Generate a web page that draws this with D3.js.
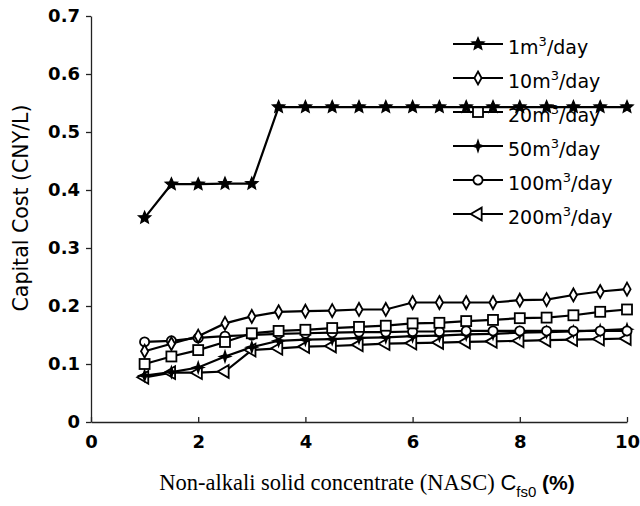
<!DOCTYPE html>
<html>
<head>
<meta charset="utf-8">
<script src="https://cdn.jsdelivr.net/npm/d3@7/dist/d3.min.js"></script>
<style>
  html, body { margin: 0; padding: 0; background: #fff; }
  svg { display: block; }
</style>
</head>
<body>
<svg id="chart" width="640" height="506"></svg>
<script>
// NASC concentration (%) at which each capacity was evaluated
const concentration = [1, 1.5, 2, 2.5, 3, 3.5, 4, 4.5, 5, 5.5, 6, 6.5, 7, 7.5, 8, 8.5, 9, 9.5, 10];

// Capital cost (CNY/L) for each plant capacity
const cost1 = [0.352, 0.41, 0.41, 0.411, 0.411, 0.543, 0.543, 0.543, 0.543, 0.543, 0.543, 0.543, 0.543, 0.543, 0.543, 0.543, 0.543, 0.543, 0.543];
const cost10 = [0.122, 0.135, 0.148, 0.170, 0.182, 0.190, 0.191, 0.192, 0.194, 0.194, 0.206, 0.206, 0.206, 0.206, 0.210, 0.211, 0.219, 0.225, 0.229];
const cost20 = [0.100, 0.113, 0.124, 0.138, 0.153, 0.157, 0.159, 0.162, 0.164, 0.166, 0.170, 0.171, 0.174, 0.176, 0.179, 0.180, 0.184, 0.190, 0.194];
const cost50 = [0.080, 0.086, 0.094, 0.113, 0.129, 0.140, 0.142, 0.143, 0.145, 0.146, 0.148, 0.149, 0.151, 0.152, 0.154, 0.155, 0.156, 0.158, 0.160];
const cost100 = [0.138, 0.140, 0.145, 0.148, 0.150, 0.152, 0.153, 0.154, 0.155, 0.155, 0.156, 0.156, 0.157, 0.157, 0.157, 0.157, 0.157, 0.157, 0.157];
const cost200 = [0.077, 0.085, 0.085, 0.087, 0.124, 0.127, 0.130, 0.131, 0.133, 0.135, 0.136, 0.137, 0.138, 0.139, 0.140, 0.141, 0.142, 0.143, 0.144];

const capacities = ["1", "10", "20", "50", "100", "200"];
const markerKinds = ["star", "diamond", "square", "spike", "circle", "triangle"];
const xTicks = [0, 2, 4, 6, 8, 10];
const yTicks = [0, 0.1, 0.2, 0.3, 0.4, 0.5, 0.6, 0.7];

const seriesValues = [cost1, cost10, cost20, cost50, cost100, cost200];
const series = capacities.map((c, i) => ({
  capacity: c,
  kind: markerKinds[i],
  points: concentration.map((x, j) => ({ x, y: seriesValues[i][j] }))
}));

const svg = d3.select("#chart");
const x = d3.scaleLinear().domain([0, 10]).range([91, 627]);
const y = d3.scaleLinear().domain([0, 0.7]).range([422, 16]);

const sansBold = "'DejaVu Sans', sans-serif";

// Axes
const gx = svg.append("g")
  .attr("transform", `translate(0,${y(0)})`)
  .call(d3.axisBottom(x).tickValues(xTicks).tickSizeInner(-5).tickSizeOuter(0).tickPadding(13)
    .tickFormat(d3.format("d")));
const gy = svg.append("g")
  .attr("transform", `translate(${x(0)},0)`)
  .call(d3.axisLeft(y).tickValues(yTicks).tickSizeInner(5).tickSizeOuter(0).tickPadding(6)
    .tickFormat(d => d === 0 ? "0" : d.toFixed(1)));

[gx, gy].forEach(g => {
  g.select(".domain").attr("stroke", "#222").attr("stroke-width", 1.3);
  g.selectAll(".tick line").attr("stroke", "#222").attr("stroke-width", 1.3);
  g.selectAll(".tick text")
    .attr("fill", "#000")
    .style("font-family", sansBold)
    .style("font-weight", "bold")
    .style("font-size", "18px");
});

// Axis titles
svg.append("text")
  .attr("transform", `translate(28,208) rotate(-90)`)
  .attr("text-anchor", "middle")
  .style("font-family", "'DejaVu Sans', sans-serif")
  .style("font-size", "20.5px")
  .text("Capital Cost (CNY/L)");

const xt = svg.append("text")
  .attr("x", 367)
  .attr("y", 490)
  .attr("text-anchor", "middle")
  .style("font-family", "'Liberation Serif', 'Times New Roman', serif")
  .style("font-size", "22.5px");
xt.append("tspan").text("Non-alkali solid concentrate (NASC) ");
xt.append("tspan").style("font-family", "'Liberation Sans', Arial, sans-serif").style("font-size", "22px").text("C");
xt.append("tspan").style("font-family", "'Liberation Sans', Arial, sans-serif").style("font-size", "15px")
  .attr("dy", 7).text("fs0");
xt.append("tspan").style("font-family", "'Liberation Sans', Arial, sans-serif").style("font-size", "21px")
  .style("font-weight", "bold").attr("dy", -7).text(" (%)");

// Marker shapes
function starPath(r, n, inner) {
  const p = [];
  for (let i = 0; i < n * 2; i++) {
    const a = -Math.PI / 2 + i * Math.PI / n;
    const rr = i % 2 === 0 ? r : r * inner;
    p.push([Math.cos(a) * rr, Math.sin(a) * rr]);
  }
  return "M" + p.map(q => q.join(",")).join("L") + "Z";
}
function drawMarker(g, kind) {
  switch (kind) {
    case "star":
      g.append("path").attr("d", starPath(6.5, 5, 0.45)).attr("fill", "#000").attr("stroke", "#000").attr("stroke-width", 1.2);
      break;
    case "diamond":
      g.append("path").attr("d", "M0,-6.5L3.6,0L0,6.5L-3.6,0Z").attr("fill", "#fff").attr("stroke", "#000").attr("stroke-width", 1.8);
      break;
    case "square":
      g.append("rect").attr("x", -5).attr("y", -5).attr("width", 10).attr("height", 10)
        .attr("fill", "#fff").attr("stroke", "#000").attr("stroke-width", 1.8);
      break;
    case "spike":
      g.append("path").attr("d", starPath(5.5, 4, 0.35)).attr("fill", "#000").attr("stroke", "#000").attr("stroke-width", 1.4);
      break;
    case "circle":
      g.append("circle").attr("r", 4.6).attr("fill", "#fff").attr("stroke", "#000").attr("stroke-width", 1.8);
      break;
    case "triangle":
      g.append("path").attr("d", d3.symbol(d3.symbolTriangle, 70)()).attr("transform", "rotate(-90)")
        .attr("fill", "#fff").attr("stroke", "#000").attr("stroke-width", 1.8);
      break;
  }
}

// Legend
const legend = svg.append("g");
series.forEach((s, i) => {
  const ly = 44 + i * 34;
  legend.append("line").attr("x1", 453).attr("x2", 503).attr("y1", ly).attr("y2", ly)
    .attr("stroke", "#000").attr("stroke-width", 2.2);
  drawMarker(legend.append("g").attr("transform", `translate(478,${ly})`), s.kind);
  const t = legend.append("text").attr("x", 508).attr("y", ly + 10)
    .style("font-family", "'DejaVu Sans', sans-serif").style("font-size", "19px");
  t.append("tspan").text(s.capacity + "m");
  t.append("tspan").attr("dy", -8).style("font-size", "13px").text("3");
  t.append("tspan").attr("dy", 8).text("/day");
});

// Series lines and markers
const line = d3.line().x(d => x(d.x)).y(d => y(d.y));
const order = [5, 3, 4, 2, 1, 0];
order.forEach(i => {
  const s = series[i];
  svg.append("path").datum(s.points).attr("d", line)
    .attr("fill", "none").attr("stroke", "#000").attr("stroke-width", 2.2);
});
order.forEach(i => {
  const s = series[i];
  s.points.forEach(p => {
    drawMarker(svg.append("g").attr("transform", `translate(${x(p.x)},${y(p.y)})`), s.kind);
  });
});
</script>
</body>
</html>
